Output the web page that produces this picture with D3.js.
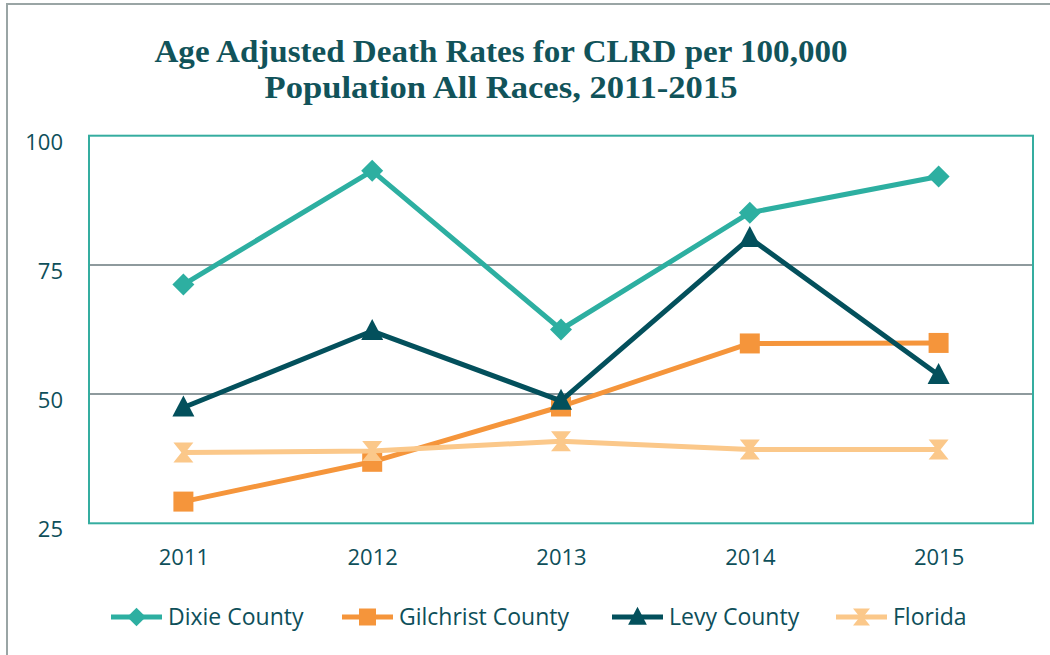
<!DOCTYPE html>
<html>
<head>
<meta charset="utf-8">
<script src="https://cdn.jsdelivr.net/npm/d3@7"></script>
<style>
body { margin: 0; background: #fff; }
svg { display: block; }
</style>
</head>
<body>
<div id="chart_place"></div>
<script>
var years = ['2011', '2012', '2013', '2014', '2015'];
var dixie = [71.2, 93.2, 62.5, 85.1, 92.1];
var gilchrist = [29.2, 36.9, 47.6, 59.8, 59.9];
var levy = [47.4, 62.2, 48.7, 80.2, 53.7];
var florida = [38.7, 39.0, 40.9, 39.3, 39.3];
var yTicks = [25, 50, 75, 100];
var titleLines = ['Age Adjusted Death Rates for CLRD per 100,000', 'Population All Races, 2011-2015'];

var series = [
  {name: 'Dixie County', values: dixie, color: '#2DAFA1', marker: 'diamond'},
  {name: 'Gilchrist County', values: gilchrist, color: '#F5953B', marker: 'square'},
  {name: 'Levy County', values: levy, color: '#03505C', marker: 'triangle'},
  {name: 'Florida', values: florida, color: '#FBC88A', marker: 'hourglass'}
];

var textColor = '#0E4F5A';
var W = 1050, H = 655;
var plotLeft = 89, plotRight = 1033, plotTop = 135.7, plotBottom = 523.3;

var svg = d3.select('#chart_place').append('svg')
    .attr('width', W).attr('height', H);

// outer frame
svg.append('rect')
    .attr('x', 7).attr('y', 4).attr('width', W + 10).attr('height', H + 10)
    .attr('fill', 'none').attr('stroke', '#9AA5A5').attr('stroke-width', 2);

// title
var widths = [693, 473];
svg.selectAll('.title').data(titleLines).enter().append('text')
    .attr('class', 'title')
    .attr('x', 501).attr('y', function(d, i){ return 62 + i * 36; })
    .attr('text-anchor', 'middle')
    .attr('textLength', function(d, i){ return widths[i]; })
    .attr('lengthAdjust', 'spacingAndGlyphs')
    .style('font-family', '"Liberation Serif", serif')
    .style('font-weight', 'bold')
    .style('font-size', '31px')
    .style('fill', '#11535A')
    .text(function(d){ return d; });

var x = d3.scalePoint().domain(years).range([plotLeft, plotRight]).padding(0.5);
var y = d3.scaleLinear().domain([25, 100]).range([plotBottom, plotTop]);

// gridlines
svg.selectAll('.grid').data([50, 75]).enter().append('line')
    .attr('x1', plotLeft).attr('x2', plotRight)
    .attr('y1', function(d){ return y(d); }).attr('y2', function(d){ return y(d); })
    .attr('stroke', '#8E9A9D').attr('stroke-width', 2);

// plot border
svg.append('rect')
    .attr('x', plotLeft).attr('y', plotTop).attr('width', plotRight - plotLeft).attr('height', plotBottom - plotTop)
    .attr('fill', 'none').attr('stroke', '#35ADA0').attr('stroke-width', 2);

// y axis labels
var yAxis = svg.append('g')
    .attr('transform', 'translate(' + 63 + ',0)')
    .call(d3.axisLeft(y).tickValues(yTicks).tickSize(0).tickPadding(0));
yAxis.select('.domain').remove();
yAxis.selectAll('text')
    .attr('dy', '0.62em')
    .style('font-family', '"Open Sans", sans-serif')
    .style('font-size', '22px')
    .style('fill', textColor);

// x axis labels
var xAxis = svg.append('g')
    .attr('transform', 'translate(0,' + 565 + ')')
    .call(d3.axisBottom(x).tickSize(0).tickPadding(0));
xAxis.select('.domain').remove();
xAxis.selectAll('text')
    .attr('dy', 0)
    .style('font-family', '"Open Sans", sans-serif')
    .style('font-size', '22px')
    .style('fill', textColor);

var markerPath = function(type){
  if (type === 'diamond') return 'M0,-11L11,0L0,11L-11,0Z';
  if (type === 'square') return 'M-10,-10H10V10H-10Z';
  if (type === 'triangle') return 'M0,-12L11,9H-11Z';
  return 'M-10,-10H10L2,0L10,10H-10L-2,0Z';
};

var line = d3.line()
    .x(function(d, i){ return x(years[i]); })
    .y(function(d){ return y(d); });

series.forEach(function(s){
  var g = svg.append('g');
  g.append('path')
      .attr('d', line(s.values))
      .attr('fill', 'none')
      .attr('stroke', s.color)
      .attr('stroke-width', 5)
      .attr('stroke-linejoin', 'round');
  g.selectAll('.mk').data(s.values).enter().append('path')
      .attr('transform', function(d, i){ return 'translate(' + x(years[i]) + ',' + y(d) + ')'; })
      .attr('d', markerPath(s.marker))
      .attr('fill', s.color);
});

// legend
var legendX = [111, 342, 612, 836];
var lg = svg.selectAll('.legend').data(series).enter().append('g')
    .attr('transform', function(d, i){ return 'translate(' + legendX[i] + ',617)'; });
lg.append('line')
    .attr('x1', 0).attr('x2', 51)
    .attr('stroke', function(d){ return d.color; })
    .attr('stroke-width', 5);
lg.append('path')
    .attr('transform', 'translate(25.5,0) scale(0.85)')
    .attr('d', function(d){ return markerPath(d.marker); })
    .attr('fill', function(d){ return d.color; });
lg.append('text')
    .attr('x', 57).attr('y', 8)
    .style('font-family', '"Open Sans", sans-serif')
    .style('font-size', '23px')
    .style('fill', textColor)
    .text(function(d){ return d.name; });
</script>
</body>
</html>
